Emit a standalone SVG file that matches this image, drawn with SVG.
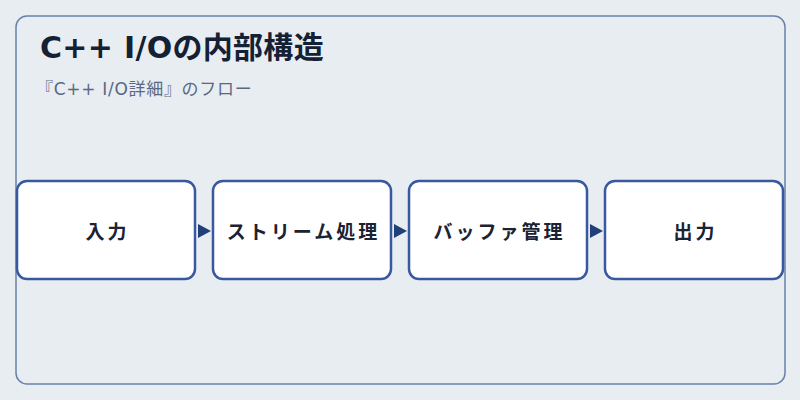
<svg xmlns="http://www.w3.org/2000/svg" width="800" height="400" viewBox="0 0 800 400">
<style>
.node rect{fill:#ffffff;stroke:#3859a0;stroke-width:2.5}
.node text{font-family:"DejaVu Sans","Noto Sans CJK JP",sans-serif;font-size:19px;font-weight:700;fill:#1a2233;text-anchor:middle;letter-spacing:3px}
.title{font-family:"DejaVu Sans","Noto Sans CJK JP",sans-serif;font-size:30px;font-weight:700;fill:#142033;letter-spacing:0.3px}
.sub{font-family:"DejaVu Sans","Noto Sans CJK JP",sans-serif;font-size:17px;fill:#5a6882;letter-spacing:0.7px}
.arr{fill:#213f78}
</style>
<rect x="0" y="0" width="800" height="400" fill="#e8edf2"/>
<rect x="16" y="16" width="769" height="368" rx="11" fill="#e8edf2" stroke="#6a80aa" stroke-width="1.5"/>
<text class="title" x="40" y="58">C++ I/Oの内部構造</text>
<text class="sub" x="36" y="95">『C++ I/O詳細』のフロー</text>
<g id="connectors">
<path class="arr" d="M198,224 L211,231 L198,238 Z"/>
<path class="arr" d="M394,224 L407,231 L394,238 Z"/>
<path class="arr" d="M590,224 L603,231 L590,238 Z"/>
</g>
<g id="node1" class="node"><rect x="17" y="181" width="178" height="98" rx="10"/><text x="107.5" y="239">入力</text></g>
<g id="node2" class="node"><rect x="213" y="181" width="178" height="98" rx="10"/><text x="303.5" y="239">ストリーム処理</text></g>
<g id="node3" class="node"><rect x="409" y="181" width="178" height="98" rx="10"/><text x="499.5" y="239">バッファ管理</text></g>
<g id="node4" class="node"><rect x="605" y="181" width="178" height="98" rx="10"/><text x="695.5" y="239">出力</text></g>
</svg>
